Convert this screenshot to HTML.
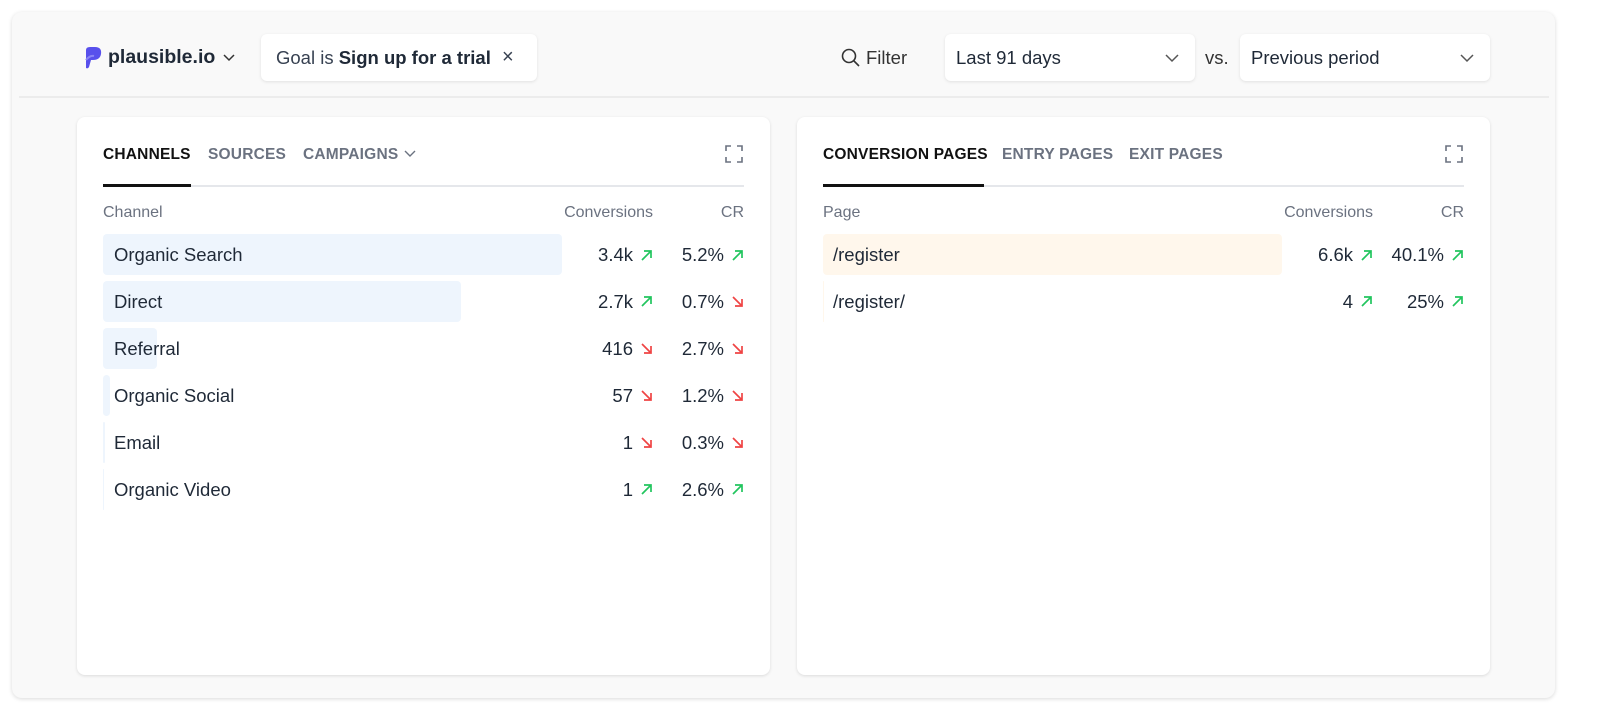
<!DOCTYPE html>
<html><head><meta charset="utf-8"><style>
*{margin:0;padding:0;box-sizing:border-box}
body{width:1600px;height:725px;background:#fff;font-family:"Liberation Sans",sans-serif;color:#1f2937;position:relative;overflow:hidden}
.a{position:absolute}
.outer{left:12px;top:12px;width:1543px;height:686px;background:#f9f9f9;border-radius:10px;box-shadow:0 1px 4px rgba(0,0,0,.15)}
.hl{left:19px;top:96px;width:1530px;height:2px;background:#ececec}
.btn{background:#fff;border-radius:6px;box-shadow:0 1px 3px rgba(0,0,0,.1);height:47px;top:34px;font-size:18.5px;line-height:47px}
.card{background:#fff;border-radius:8px;box-shadow:0 1px 3px rgba(0,0,0,.12);top:117px;width:693px;height:558px}
.tab{font-size:15.5px;font-weight:bold;color:#6b7280;top:146px;letter-spacing:.2px}
.tab.on{color:#111}
.th{font-size:16px;color:#6b7280;top:204px}
.r{font-size:18.5px;color:#1f2937}
.bar{background:#eef5fd;border-radius:4px;height:41px}
.pbar{background:#fff7ec;border-radius:4px;height:41px}
</style></head><body>
<div class="a outer"></div>
<div class="a hl"></div>
<svg class="a" style="left:84px;top:47px" width="18" height="22" viewBox="0 0 18 22"><path d="M2 3 Q2 0 6 0 H11 Q18 0 17 7 Q16 13 9 13 H7 L5 20 Q4 22 2 21 Z" fill="#5850ec"/><path d="M2 13 Q6 8 10 9" stroke="#8b85f4" stroke-width="2" fill="none"/></svg>
<div class="a" style="left:108px;top:46px;font-size:19.5px;font-weight:bold;color:#1f2937">plausible.io</div>
<svg class="a" style="left:223px;top:54px" width="12" height="8"><path d="M1 1 L6 6 L11 1" stroke="#333" stroke-width="1.5" fill="none"/></svg>
<div class="a btn" style="left:261px;width:276px;padding-left:15px;color:#374151">Goal is <b style="color:#1f2937">Sign up for a trial</b><span style="position:absolute;left:241px;font-size:20px">×</span></div>
<svg class="a" style="left:841px;top:48px" width="19" height="19"><circle cx="8" cy="8" r="6.5" stroke="#333" stroke-width="1.6" fill="none"/><path d="M13 13 L18 18" stroke="#333" stroke-width="1.6"/></svg>
<div class="a" style="left:866px;top:47px;font-size:18.5px;color:#333">Filter</div>
<div class="a btn" style="left:945px;width:250px;padding-left:11px">Last 91 days<svg style="position:absolute;left:220px;top:20px" width="14" height="9"><path d="M1 1 L7 7 L13 1" stroke="#555" stroke-width="1.5" fill="none"/></svg></div>
<div class="a" style="left:1205px;top:47px;font-size:18.5px;color:#333">vs.</div>
<div class="a btn" style="left:1240px;width:250px;padding-left:11px">Previous period<svg style="position:absolute;left:220px;top:20px" width="14" height="9"><path d="M1 1 L7 7 L13 1" stroke="#555" stroke-width="1.5" fill="none"/></svg></div>

<div class="a card" style="left:77px"></div>
<div class="a card" style="left:797px"></div>

<div class="a tab on" style="left:103px">CHANNELS</div>
<div class="a tab" style="left:208px">SOURCES</div>
<div class="a tab" style="left:303px">CAMPAIGNS</div>
<svg class="a" style="left:404px;top:150px" width="12" height="8"><path d="M1 1 L6 6 L11 1" stroke="#6b7280" stroke-width="1.4" fill="none"/></svg>
<div class="a" style="left:103px;top:185px;width:641px;height:2px;background:#e5e7eb"></div>
<div class="a" style="left:103px;top:184px;width:88px;height:3px;background:#111"></div>

<div class="a tab on" style="left:823px">CONVERSION PAGES</div>
<div class="a tab" style="left:1002px">ENTRY PAGES</div>
<div class="a tab" style="left:1129px">EXIT PAGES</div>
<div class="a" style="left:823px;top:185px;width:641px;height:2px;background:#e5e7eb"></div>
<div class="a" style="left:823px;top:184px;width:161px;height:3px;background:#111"></div>

<svg class="a" style="left:725px;top:145px" width="18" height="18"><path d="M1 6V1H6M12 1H17V6M17 12V17H12M6 17H1V12" stroke="#6b7280" stroke-width="1.6" fill="none"/></svg>
<svg class="a" style="left:1445px;top:145px" width="18" height="18"><path d="M1 6V1H6M12 1H17V6M17 12V17H12M6 17H1V12" stroke="#6b7280" stroke-width="1.6" fill="none"/></svg>

<div class="a th" style="left:103px">Channel</div>
<div class="a th" style="right:947px">Conversions</div>
<div class="a th" style="right:856px">CR</div>
<div class="a th" style="left:823px">Page</div>
<div class="a th" style="right:227px">Conversions</div>
<div class="a th" style="right:136px">CR</div>

<div id="rows"></div>
<script>
var U='<svg width="13" height="13" style="margin-left:7px"><path d="M2 11L11 2M4 2H11V9" stroke="#22c55e" stroke-width="1.7" fill="none"/></svg>';
var D='<svg width="13" height="13" style="margin-left:7px"><path d="M2 2L11 11M4 11H11V4" stroke="#ef4444" stroke-width="1.7" fill="none"/></svg>';
var rows=[["Organic Search",459,"3.4k",U,"5.2%",U],["Direct",358,"2.7k",U,"0.7%",D],["Referral",54,"416",D,"2.7%",D],["Organic Social",7,"57",D,"1.2%",D],["Email",2,"1",D,"0.3%",D],["Organic Video",1,"1",U,"2.6%",U]];
var h="";
rows.forEach(function(r,i){var y=234+i*46.9;
h+='<div class="a bar" style="left:103px;top:'+y+'px;width:'+r[1]+'px"></div>';
h+='<div class="a r" style="left:114px;top:'+(y+10)+'px">'+r[0]+'</div>';
h+='<div class="a r" style="right:947px;top:'+(y+10)+'px;display:flex;align-items:center">'+r[2]+r[3]+'</div>';
h+='<div class="a r" style="right:856px;top:'+(y+10)+'px;display:flex;align-items:center">'+r[4]+r[5]+'</div>';});
var p=[["/register",459,"6.6k",U,"40.1%",U],["/register/",1,"4",U,"25%",U]];
p.forEach(function(r,i){var y=234+i*46.9;
h+='<div class="a pbar" style="left:823px;top:'+y+'px;width:'+r[1]+'px"></div>';
h+='<div class="a r" style="left:833px;top:'+(y+10)+'px">'+r[0]+'</div>';
h+='<div class="a r" style="right:227px;top:'+(y+10)+'px;display:flex;align-items:center">'+r[2]+r[3]+'</div>';
h+='<div class="a r" style="right:136px;top:'+(y+10)+'px;display:flex;align-items:center">'+r[4]+r[5]+'</div>';});
document.getElementById("rows").innerHTML=h;
</script>
</body></html>
